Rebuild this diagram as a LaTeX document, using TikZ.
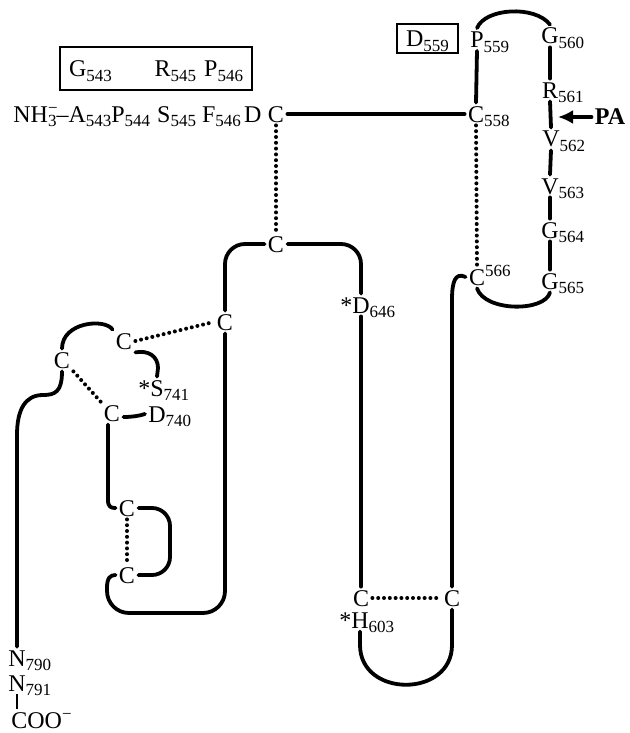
\documentclass[tikz,border=0pt]{standalone}
\usepackage{fontspec}
\setmainfont{Liberation Serif}
\usetikzlibrary{arrows.meta}
\newcommand\sbx[1]{\raisebox{-0.45ex}{\fontsize{8.5}{9}\selectfont #1}}
\newcommand\spx[1]{\raisebox{0.8ex}{\fontsize{8.5}{9}\selectfont #1}}
\begin{document}
\begin{tikzpicture}[x=0.5pt,y=-0.5pt,
  res/.style={inner sep=1.5pt,text height=8pt,text depth=0pt,font=\fontsize{12}{14}\selectfont},
  ln/.style={line width=1.9pt,line cap=round},
  dt/.style={line width=2pt,line cap=round,dash pattern=on 0pt off 2.9pt},
  bx/.style={draw,line width=1pt,inner sep=0pt}]
\useasboundingbox (0,0) rectangle (630,733);
% top row
\node[res,bx,minimum width=96pt,minimum height=21.5pt,text width=87pt] (box1) at (156,68.5) {G\sbx{543}\hfill R\sbx{545} P\sbx{546}};
\node[res,anchor=west,text width=124pt] (seq) at (10,114) {NH\rlap{\spx{−}}\sbx{3}–A\sbx{543}P\sbx{544}\hspace{3.5pt}S\sbx{545}\hspace{3pt}F\sbx{546}\hfill D};
\node[res] (c1) at (276,114) {C};
\node[res] (c558) at (476,114) {C\rlap{\sbx{558}}};
\node[res] (p559) at (477,39.5) {P\rlap{\sbx{559}}};
\node[res,bx,minimum width=30.5pt,minimum height=14.5pt] (d559) at (427.5,38.5) {D\sbx{559}};
\node[res] (g560) at (550,36) {G\rlap{\sbx{560}}};
\node[res] (r561) at (550,90) {R\rlap{\sbx{561}}};
\node[res] (v562) at (551,139) {V\rlap{\sbx{562}}};
\node[res] (v563) at (550,186) {V\rlap{\sbx{563}}};
\node[res] (g564) at (550,230) {G\rlap{\sbx{564}}};
\node[res] (g565) at (550,281) {G\rlap{\sbx{565}}};
\node[res] (c566) at (477,277) {C\rlap{\spx{566}}};
\node[res,font=\fontsize{12}{14}\selectfont\bfseries] (pa) at (610,117) {PA};
\coordinate (pat) at (558,117);
% middle
\node[res] (cT) at (276,244) {C};
\node[res] (d646) at (361,305) {\llap{*}D\rlap{\sbx{646}}};
\node[res] (cR) at (225,322) {C};
\node[res] (cA) at (124,341) {C};
\node[res] (cB) at (62,360) {C};
\node[res] (s741) at (157,388) {\llap{*}S\rlap{\sbx{741}}};
\node[res] (cD) at (112,413) {C};
\node[res] (d740) at (157,414) {D\rlap{\sbx{740}}};
\node[res] (cU) at (127,508) {C};
\node[res] (cL) at (127,575) {C};
\node[res] (cH) at (361,598) {C};
\node[res] (h603) at (360,620) {\llap{*}H\rlap{\sbx{603}}};
\node[res] (cK) at (452,598) {C};
\node[res] (n790) at (17,658) {N\rlap{\sbx{790}}};
\node[res] (n791) at (17,683) {N\rlap{\sbx{791}}};
\node[res,anchor=west] (coo) at (8,720) {COO\spx{−}};
% connectors
\draw[ln] (c1.east) -- (c558.west);
\draw[dt] (c1.south) -- (cT.north);
\draw[ln] (p559.south) -- (c558.north);
\draw[ln] (p559.north) .. controls (485,8) and (535,5) .. (g560.north);
\draw[ln] (g560.south) -- (r561.north);
\draw[ln] (r561.south) -- (v562.north);
\draw[ln] (v562.south) -- (v563.north);
\draw[ln] (v563.south) -- (g564.north);
\draw[ln] (g564.south) -- (g565.north);
\draw[dt] (c558.south) -- (c566.north);
\draw[ln] (c566.south) .. controls (485,312) and (545,312) .. (g565.south);
\draw[ln] (c566.west) .. controls (455,272) and (452,282) .. (452,300) -- (cK.north);
\draw[ln] (cK.south) -- (452,645) .. controls (452,698) and (360,698) .. (360,645) -- (h603.south);
\draw[dt] (cH.east) -- (cK.west);
\draw[ln] (cH.north) -- (d646.south);
\draw[ln,rounded corners=10pt] (d646.north) |- (cT.east);
\draw[ln,rounded corners=10pt] (cT.west) -| (cR.north);
\draw[ln] (cL.west) .. controls (110,575) and (107,578) .. (107,588) [rounded corners=11pt] -- (107,613) -- (225,613) -- (cR.south);
\draw[ln] ([xshift=-2pt]cD.south) -- (108,500) .. controls (108,507) and (111,508) .. (cU.west);
\draw[dt] (cU.south) -- (cL.north);
\draw[ln,rounded corners=9pt] (cU.east) -- (170,508) -- (170,575) -- (cL.east);
\draw[ln] ([yshift=-2pt]cD.east) .. controls +(8,0) and +(-6,2) .. (d740.west);
\draw[ln] (cA.south east) .. controls (148,350) and (158,356) .. (158,368) -- (s741.north);
\draw[ln] (cB.north) .. controls (62,322) and (105,318) .. (cA.north west);
\draw[ln] (cB.south) .. controls (62,392) and (55,395) .. (43,395) .. controls (25,395) and (17,410) .. (17,435) -- (n790.north);
\draw[line width=1pt] (n791.south) -- (n791.south |- coo.north);
\draw[dt] (cA.east) -- (cR.west);
\draw[dt] (cB.south east) -- (cD.north west);
\draw[ln,-{Latex[length=7.5pt,width=7pt]}] (pa.west) -- (pat);
\end{tikzpicture}
\end{document}
